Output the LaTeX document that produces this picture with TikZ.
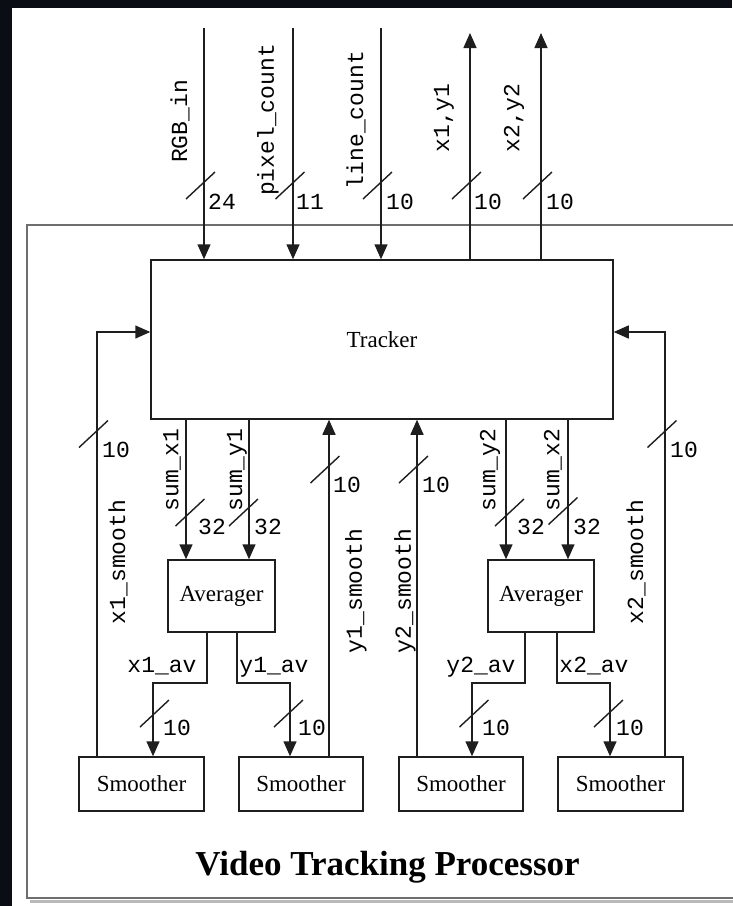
\documentclass[tikz,border=0pt]{standalone}
\usepackage{fontspec}
\setmainfont{Liberation Serif}
\setmonofont{Liberation Mono}
\usetikzlibrary{arrows.meta}
\definecolor{bgdark}{RGB}{10,14,20}
\definecolor{ln}{RGB}{30,30,30}
\definecolor{frm}{RGB}{110,110,110}
\tikzset{
  wire/.style={draw=ln, line width=1.5pt},
  arr/.style={wire, -{Triangle[length=15pt,width=13pt]}},
  blk/.style={draw=ln, line width=1.5pt, fill=white, inner sep=0pt,
              font=\fontsize{23}{26}\selectfont},
  slash/.style={draw=ln, line width=1.4pt},
  sig/.style={font=\ttfamily\fontsize{23}{26}\selectfont, inner sep=0pt, text=black},
  vsig/.style={sig, rotate=90},
  wid/.style={sig, anchor=west},
  hsig/.style={sig, anchor=base},
}
\begin{document}
\begin{tikzpicture}[x=1pt,y=-1pt]
\useasboundingbox (0,0) rectangle (732,906);
\fill[bgdark] (0,0) rectangle (732,8);
\fill[bgdark] (0,0) rectangle (12,906);
\fill[white] (12,8) rectangle (760,920);
% outer frame with shadow
\draw[gray!55, line width=3pt] (30,901.5) -- (770,901.5);
\draw[frm, line width=2.2pt] (27,225) rectangle (770,898);

% blocks
\node[blk, minimum width=462pt, minimum height=159pt] (tracker) at (382,339.5) {Tracker};
\node[blk, minimum width=107pt, minimum height=72pt] (avg1) at (221.5,596) {Averager};
\node[blk, minimum width=106pt, minimum height=72pt] (avg2) at (541,596) {Averager};
\node[blk, minimum width=125pt, minimum height=54pt] (sm1) at (141.5,784) {Smoother};
\node[blk, minimum width=124pt, minimum height=54pt] (sm2) at (301,784) {Smoother};
\node[blk, minimum width=124pt, minimum height=54pt] (sm3) at (461,784) {Smoother};
\node[blk, minimum width=125pt, minimum height=54pt] (sm4) at (620.5,784) {Smoother};
\node[font=\bfseries\fontsize{35}{40}\selectfont, inner sep=0pt, anchor=base] (title) at (387.5,875) {Video Tracking Processor};

% coordinates
\coordinate (i1) at (204,28);
\coordinate (i2) at (293,28);
\coordinate (i3) at (381,28);
\coordinate (o1) at (470,33);
\coordinate (o2) at (541,33);
\coordinate (s1) at (186,0);
\coordinate (s2) at (249,0);
\coordinate (s3) at (506,0);
\coordinate (s4) at (568,0);
\coordinate (f1) at (97,332);
\coordinate (f2) at (329,0);
\coordinate (f3) at (417,0);
\coordinate (f4) at (665,332);
\coordinate (a1) at (207,0);
\coordinate (a2) at (237,0);
\coordinate (a3) at (525,0);
\coordinate (a4) at (557,0);
\coordinate (j1) at (153,683);
\coordinate (j2) at (290,683);
\coordinate (j3) at (472,683);
\coordinate (j4) at (610,683);

% top inputs / outputs
\draw[arr] (i1) -- (tracker.north -| i1);
\draw[arr] (i2) -- (tracker.north -| i2);
\draw[arr] (i3) -- (tracker.north -| i3);
\draw[arr] (tracker.north -| o1) -- (o1);
\draw[arr] (tracker.north -| o2) -- (o2);

% sums to averagers
\draw[arr] (tracker.south -| s1) -- (avg1.north -| s1);
\draw[arr] (tracker.south -| s2) -- (avg1.north -| s2);
\draw[arr] (tracker.south -| s3) -- (avg2.north -| s3);
\draw[arr] (tracker.south -| s4) -- (avg2.north -| s4);

% feedback
\draw[arr] (sm1.north -| f1) |- (tracker.west |- f1);
\draw[arr] (sm2.north -| f2) -- (tracker.south -| f2);
\draw[arr] (sm3.north -| f3) -- (tracker.south -| f3);
\draw[arr] (sm4.north -| f4) |- (tracker.east |- f4);

% averager outputs
\draw[arr] (avg1.south -| a1) |- (j1) -- (sm1.north -| j1);
\draw[arr] (avg1.south -| a2) |- (j2) -- (sm2.north -| j2);
\draw[arr] (avg2.south -| a3) |- (j3) -- (sm3.north -| j3);
\draw[arr] (avg2.south -| a4) |- (j4) -- (sm4.north -| j4);

% bus slashes
\foreach \cx/\cy in {200.5/185.5, 290/185.5, 377.5/185.5, 466.5/185.5, 537.5/185.5,
  93.5/434, 190/512.5, 243.5/512.5, 325/469.5, 413.5/469.5, 509.5/512.5, 563/511,
  662/434, 154.5/713.5, 288.5/713.5, 474/713.5, 608.5/713.5}
  \draw[slash] (\cx-14.5,\cy+13.5) -- (\cx+14.5,\cy-13.5);

% bus widths
\node[wid] (w1) at (208,202) {24};
\node[wid] (w2) at (296,202) {11};
\node[wid] (w3) at (386,202) {10};
\node[wid] (w4) at (474,202) {10};
\node[wid] (w5) at (546,202) {10};
\node[wid] (w6) at (102,450) {10};
\node[wid] (w7) at (198,527) {32};
\node[wid] (w8) at (254,527) {32};
\node[wid] (w9) at (333,485) {10};
\node[wid] (w10) at (422,485) {10};
\node[wid] (w11) at (517,527) {32};
\node[wid] (w12) at (573,527) {32};
\node[wid] (w13) at (670,450) {10};
\node[wid] (w14) at (163,728) {10};
\node[wid] (w15) at (298,728) {10};
\node[wid] (w16) at (482,728) {10};
\node[wid] (w17) at (616,728) {10};

% signal names
\node[vsig] (n1) at (180,121.5) {RGB\_in};
\node[vsig] (n2) at (268,120) {pixel\_count};
\node[vsig] (n3) at (356,120) {line\_count};
\node[vsig] (n4) at (444,118) {x1,y1};
\node[vsig] (n5) at (514,118) {x2,y2};
\node[vsig] (n6) at (172,470) {sum\_x1};
\node[vsig] (n7) at (237,470) {sum\_y1};
\node[vsig] (n8) at (490,470) {sum\_y2};
\node[vsig] (n9) at (553,470) {sum\_x2};
\node[vsig] (n10) at (118,562) {x1\_smooth};
\node[vsig] (n11) at (356,591) {y1\_smooth};
\node[vsig] (n12) at (405,591) {y2\_smooth};
\node[vsig] (n13) at (636,562) {x2\_smooth};
\node[hsig] (n14) at (162,672) {x1\_av};
\node[hsig] (n15) at (274,672) {y1\_av};
\node[hsig] (n16) at (481,672) {y2\_av};
\node[hsig] (n17) at (594,672) {x2\_av};
\end{tikzpicture}
\end{document}
